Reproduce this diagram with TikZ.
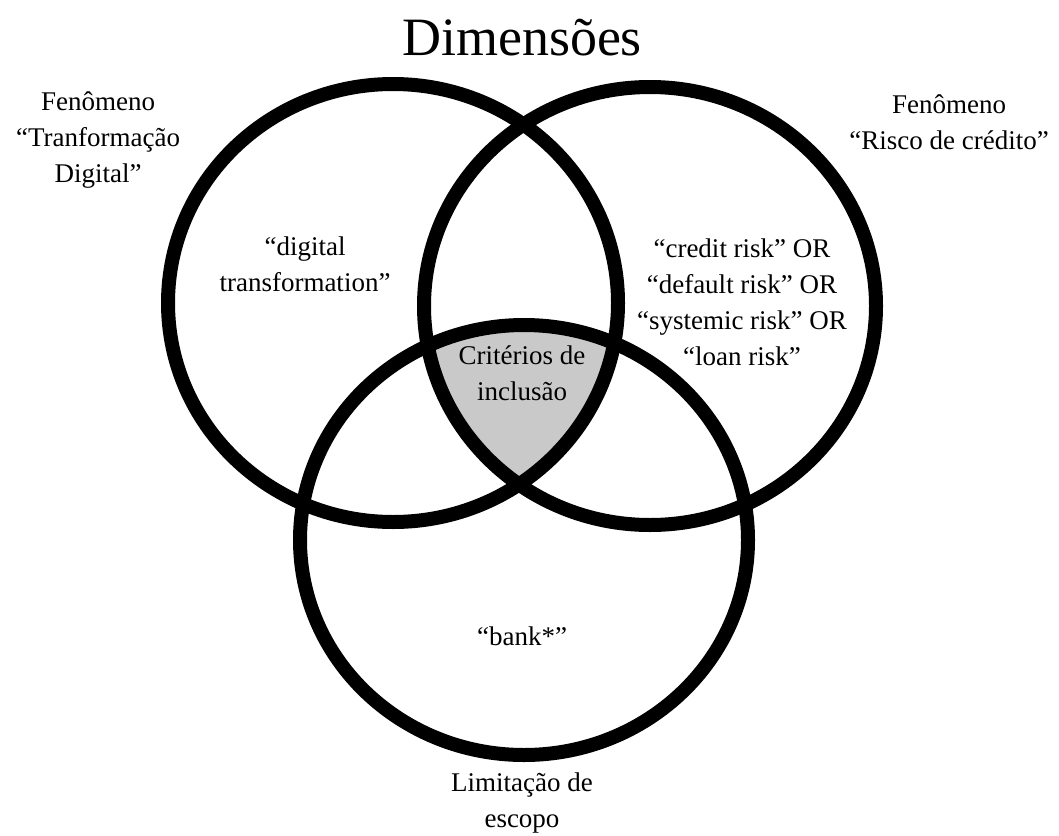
\documentclass[tikz,border=0pt]{standalone}
\usepackage{fontspec}
\setmainfont{Liberation Serif}
\usetikzlibrary{positioning}
\tikzset{
  ring/.style={draw=black, line width=14pt},
  core/.style={fill=black!21},
  lbl/.style={align=center, font=\fontsize{27}{36}\selectfont, inner sep=0pt},
  ttl/.style={font=\fontsize{54}{60}\selectfont, inner sep=0pt}
}

\begin{document}
\begin{tikzpicture}[x=1pt,y=-1pt]
  \useasboundingbox (0,0) rectangle (1059,835);
  \def\ringDT{(393,303) ellipse [x radius=225, y radius=219]}
  \def\ringCR{(650,306) ellipse [x radius=226, y radius=219]}
  \def\ringBK{(524,540) ellipse [x radius=224, y radius=215]}

  % shared area of the three rings
  \begin{scope}
    \clip \ringDT;
    \clip \ringCR;
    \fill[core] \ringBK;
  \end{scope}

  \draw[ring] \ringDT;
  \draw[ring] \ringCR;
  \draw[ring] \ringBK;

  \node[ttl] (title) at (522,38) {Dimensões};

  \node[lbl] (fenDT) at (98,140) {Fenômeno\\“Tranformação\\Digital”};
  \node[lbl] (fenCR) at (949,122) {Fenômeno\\“Risco de crédito”};

  \node[lbl] (kwDT) at (305,264) {“digital\\transformation”};
  \node[lbl] (kwCR) at (742,302) {“credit risk” OR\\“default risk” OR\\“systemic risk” OR\\“loan risk”};
  \node[lbl] (incl) at (522,373) {Critérios de\\inclusão};
  \node[lbl] (kwBK) at (522,636) {“bank*”};
  \node[lbl] (limBK) at (522,803) {Limitação de\\escopo};
\end{tikzpicture}
\end{document}
